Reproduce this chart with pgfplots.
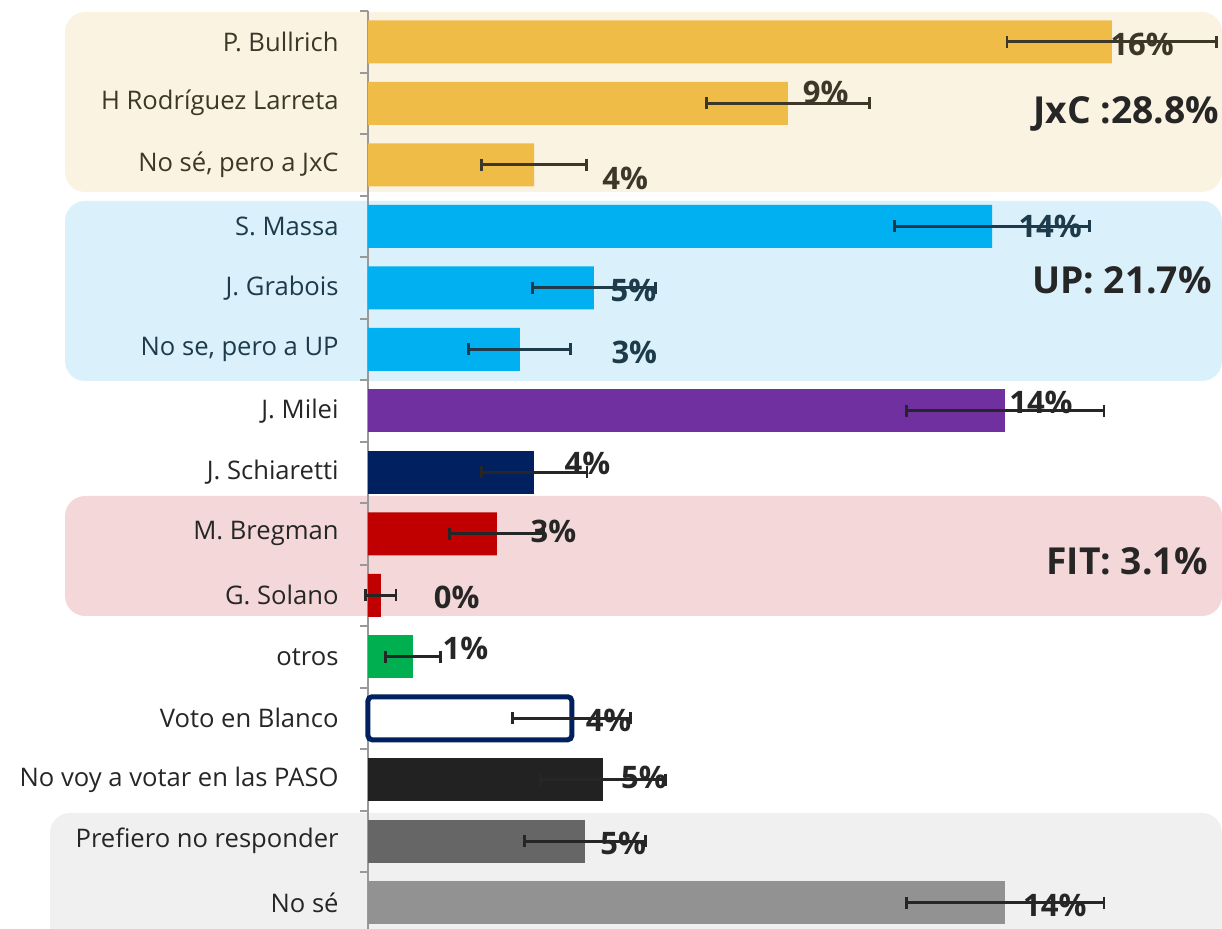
\documentclass[border=0pt]{standalone}
\usepackage{fontspec}
\setmainfont{Open Sans}
\usepackage{pgfplots}
\pgfplotsset{compat=1.18}

\definecolor{cjxc}{HTML}{F0BC48}
\definecolor{cup}{HTML}{00B0F0}
\definecolor{cmilei}{HTML}{7030A0}
\definecolor{cnavy}{HTML}{002060}
\definecolor{cfit}{HTML}{C00000}
\definecolor{cotros}{HTML}{00B050}
\definecolor{cnovoy}{HTML}{222222}
\definecolor{cpref}{HTML}{666666}
\definecolor{cnose}{HTML}{929292}
\definecolor{bgjxc}{HTML}{FBF3E2}
\definecolor{bgup}{HTML}{DAF0FA}
\definecolor{bgfit}{HTML}{F4D8D9}
\definecolor{bggray}{HTML}{F0F0F0}
\definecolor{txjxc}{HTML}{3D3729}
\definecolor{txup}{HTML}{1E3B4C}
\definecolor{txdark}{HTML}{262626}
\definecolor{axgray}{HTML}{999999}

\pgfplotsset{
  errb/.style={
    error bars/x dir=both, error bars/x explicit,
    error bars/error bar style={draw=#1, line width=1.4pt, solid, rounded corners=0pt},
    error bars/error mark options={draw=#1, line width=1.4pt, mark size=3pt, solid, rotate=90},
  },
}
\tikzset{
  vl/.style={font=\bfseries\fontsize{15.5}{18}\selectfont, text=#1},
  gl/.style={font=\bfseries\fontsize{18.6}{22}\selectfont, text=txdark},
}

\begin{document}
\begin{tikzpicture}[x=1pt,y=1pt]
\useasboundingbox (0,0) rectangle (611,464);
% group backgrounds
\fill[bgjxc, rounded corners=10pt] (32.5,368) rectangle (611,458);
\fill[bgup, rounded corners=10pt] (32.5,273.5) rectangle (611,363.5);
\fill[bgfit, rounded corners=10pt] (32.5,156) rectangle (611,216);
\fill[bggray, rounded corners=10pt] (25,-10) rectangle (611,57.5);

\begin{axis}[
  at={(184pt,-2.75pt)}, anchor=south west,
  scale only axis, width=427pt, height=461.25pt,
  xbar, bar width=21.5pt, bar shift=0pt,
  xmin=0, xmax=18.565, ymin=-0.5, ymax=14.5, y dir=reverse,
  axis x line=none, axis y line*=left,
  axis line style={draw=axgray, line width=1pt},
  xtick=\empty,
  ytick={0,...,14},
  minor ytick={-0.5,0.5,...,14.5},
  tick align=outside,
  major tick length=0pt, minor tick length=4pt,
  minor tick style={draw=axgray, line width=1pt},
  yticklabels={
    \textcolor{txjxc}{P. Bullrich},
    \textcolor{txjxc}{H Rodríguez Larreta},
    {\textcolor{txjxc}{No sé, pero a JxC}},
    \textcolor{txup}{S. Massa},
    \textcolor{txup}{J. Grabois},
    {\textcolor{txup}{No se, pero a UP}},
    J. Milei, J. Schiaretti, M. Bregman, G. Solano, otros,
    Voto en Blanco, No voy a votar en las PASO,
    Prefiero no responder, No sé},
  yticklabel style={font=\fontsize{12.8}{15}\selectfont, text=txdark, inner sep=0pt, xshift=-14.5pt},
  clip=false,
]
% value labels
\node[vl=txjxc] at (axis cs:16.83,0.05) {16\%};
\node[vl=txjxc] at (axis cs:9.95,0.83) {9\%};
\node[vl=txjxc] at (axis cs:5.59,2.22) {4\%};
\node[vl=txup] at (axis cs:14.83,3.01) {14\%};
\node[vl=txup] at (axis cs:5.77,4.04) {5\%};
\node[vl=txup] at (axis cs:5.79,5.05) {3\%};
\node[vl=txdark] at (axis cs:14.63,5.86) {14\%};
\node[vl=txdark] at (axis cs:4.77,6.85) {4\%};
\node[vl=txdark] at (axis cs:4.03,7.97) {3\%};
\node[vl=txdark] at (axis cs:1.93,9.04) {0\%};
\node[vl=txdark] at (axis cs:2.12,9.87) {1\%};
\node[vl=txdark] at (axis cs:5.23,11.03) {4\%};
\node[vl=txdark] at (axis cs:6.00,11.97) {5\%};
\node[vl=txdark] at (axis cs:5.55,13.03) {5\%};
\node[vl=txdark] at (axis cs:14.93,14.04) {14\%};
% group totals
\node[gl] at (axis cs:16.48,1.18) {JxC :28.8\%};
\node[gl] at (axis cs:16.39,3.88) {UP: 21.7\%};
\node[gl] at (axis cs:16.50,8.44) {FIT: 3.1\%};

% bars
\addplot[fill=cjxc, draw=none, errb=txjxc] coordinates {
  (16.17,0) +- (2.28,0) (9.13,1) +- (1.77,0) (3.61,2) +- (1.14,0)};
\addplot[fill=cup, draw=none, errb=txup] coordinates {
  (13.57,3) +- (2.12,0) (4.91,4) +- (1.34,0) (3.30,5) +- (1.11,0)};
\addplot[fill=cmilei, draw=none, errb=txdark] coordinates {(13.85,6) +- (2.15,0)};
\addplot[fill=cnavy, draw=none, errb=txdark] coordinates {(3.61,7) +- (1.15,0)};
\addplot[fill=cfit, draw=none, errb=txdark] coordinates {
  (2.80,8) +- (1.02,0) (0.28,9) +- (0.33,0)};
\addplot[fill=cotros, draw=none, errb=txdark] coordinates {(0.98,10) +- (0.60,0)};
\addplot[fill=white, draw=cnavy, line width=2.5pt, rounded corners=2pt, errb=txdark] coordinates {(4.43,11) +- (1.28,0)};
\addplot[fill=cnovoy, draw=none, errb=txdark] coordinates {(5.11,12) +- (1.36,0)};
\addplot[fill=cpref, draw=none, errb=txdark] coordinates {(4.72,13) +- (1.32,0)};
\addplot[fill=cnose, draw=none, errb=txdark] coordinates {(13.85,14) +- (2.15,0)};
\end{axis}
\end{tikzpicture}
\end{document}
